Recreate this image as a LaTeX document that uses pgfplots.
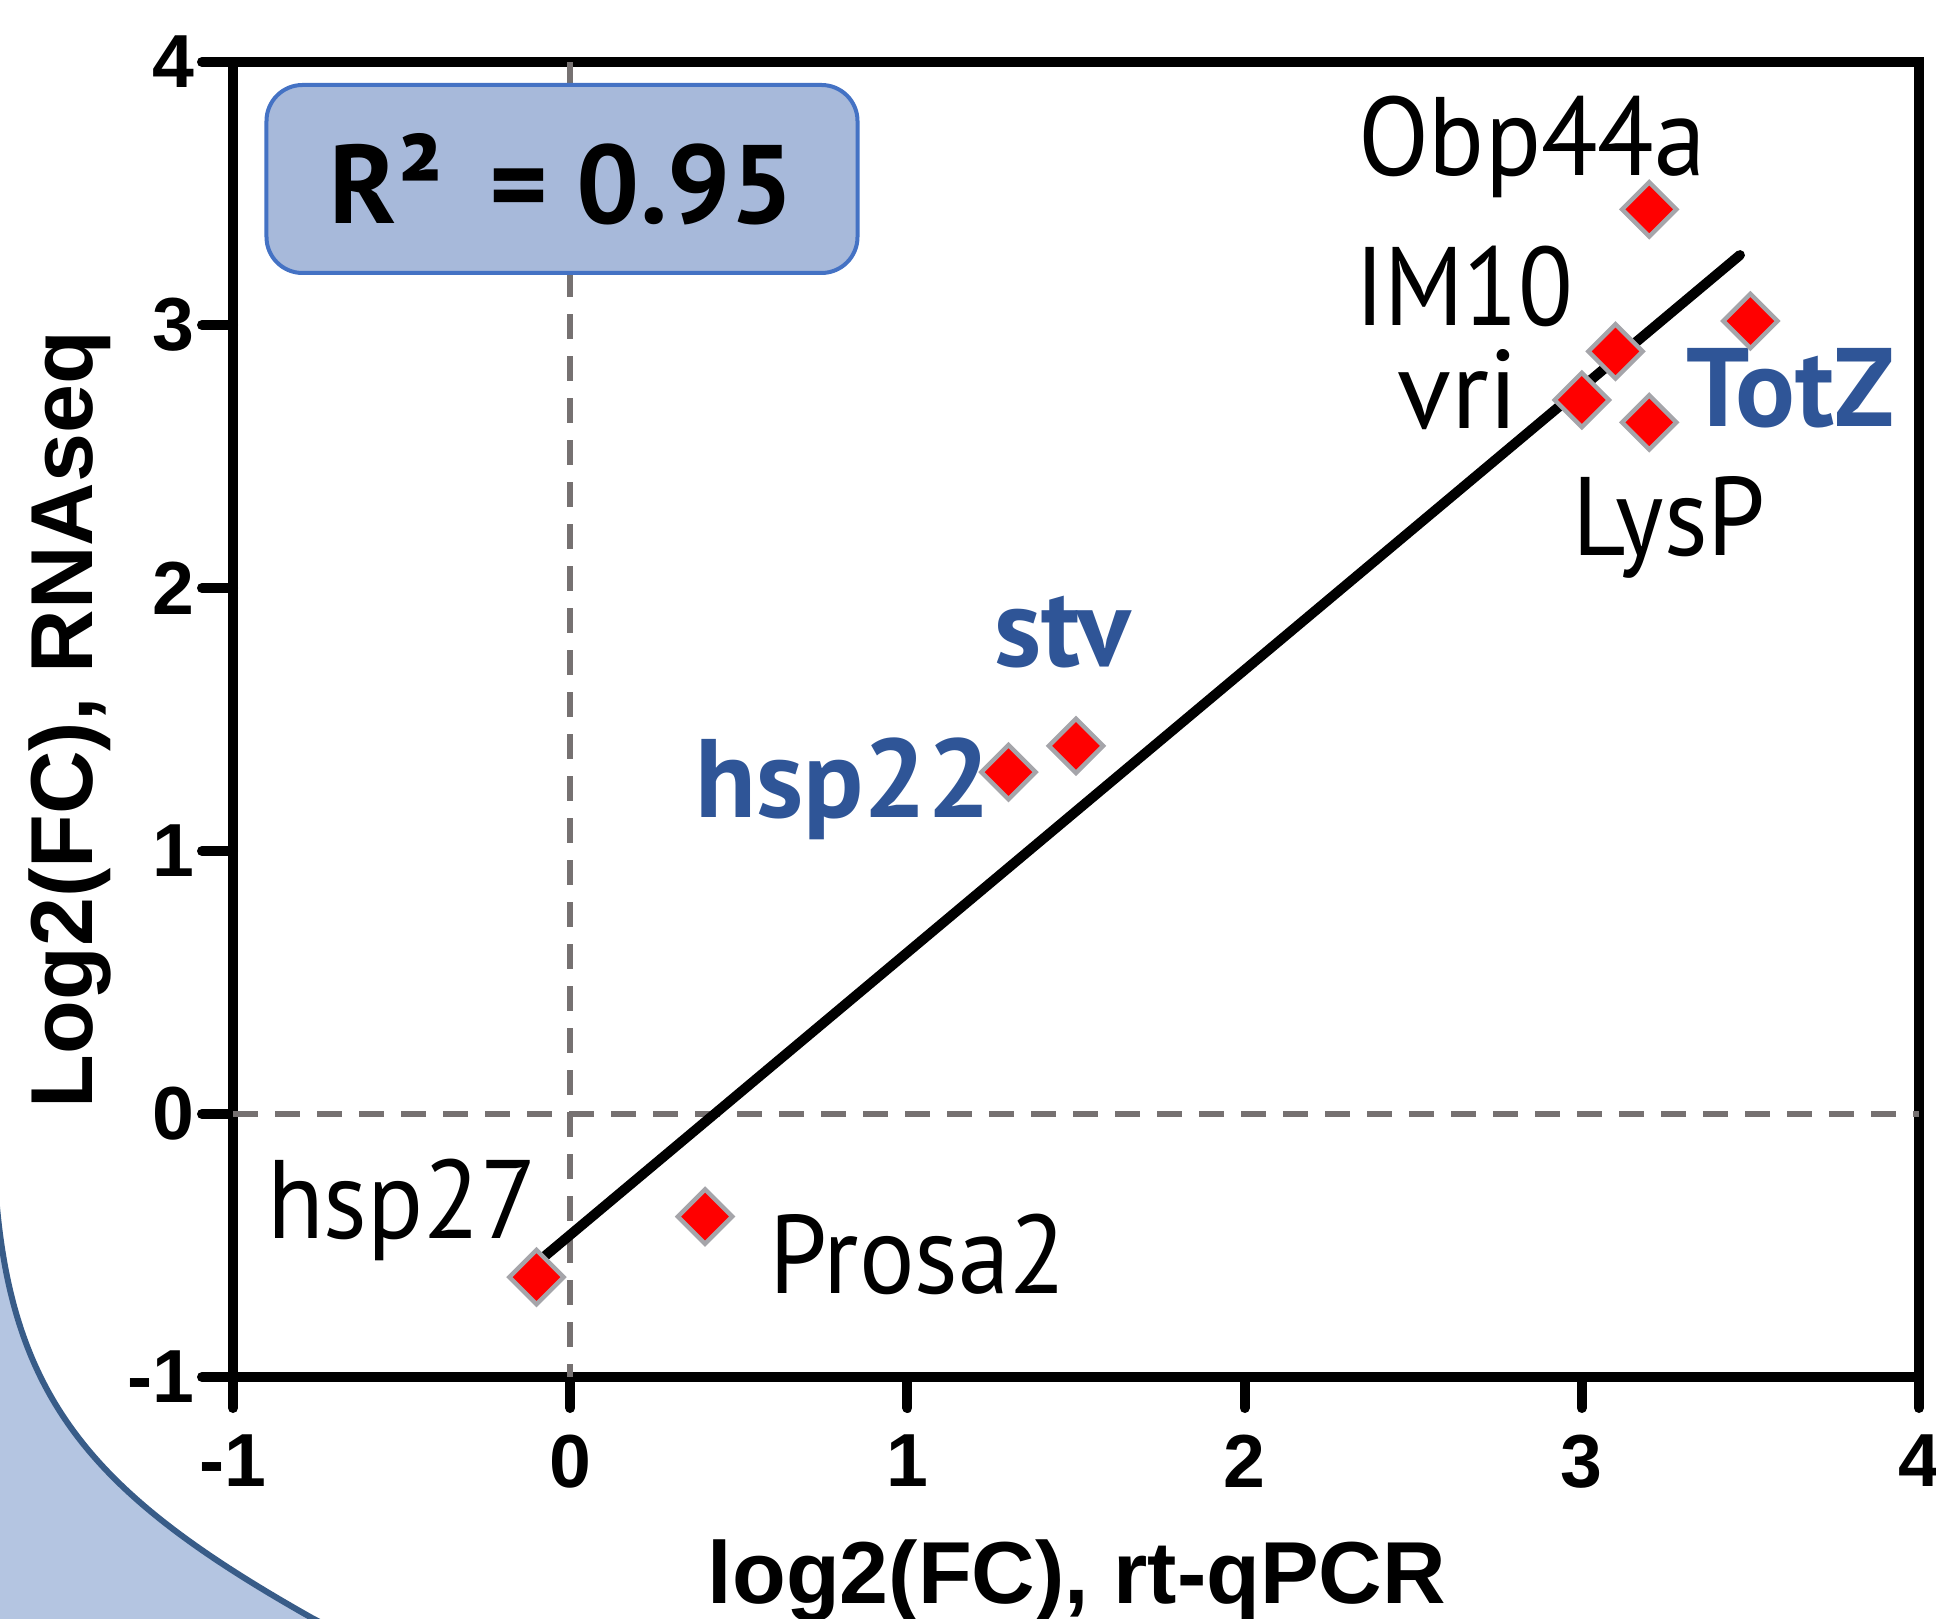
\documentclass[border=0pt]{standalone}
\usepackage{pgfplots}
\pgfplotsset{compat=1.18}
\usepackage{fontspec}
\setmainfont{Liberation Sans}
\newfontfamily\labelfont{PT Sans}
\definecolor{dblue}{RGB}{47,85,151}
\definecolor{boxfill}{RGB}{167,185,218}
\definecolor{boxline}{RGB}{68,114,196}
\definecolor{bgfill}{RGB}{180,197,225}
\definecolor{bgline}{RGB}{56,92,136}
\definecolor{dashgray}{RGB}{118,113,113}
\definecolor{mkgray}{RGB}{165,165,170}
\newcommand\lf{\labelfont\fontsize{27.9}{30}\selectfont}
\newcommand\nf[1]{\scalebox{0.93}[1]{#1}}
\begin{document}
\begin{tikzpicture}
\useasboundingbox (-58.25pt,-60.25pt) rectangle (425.75pt,344.25pt);
\fill[bgfill] (-70pt,52pt) -- (-59.5pt,49.25pt) .. controls (-56.25pt,-5.75pt) and (-34.75pt,-29.5pt) .. (19.75pt,-60.25pt) -- (25pt,-70pt) -- (-70pt,-70pt) -- cycle;
\draw[bgline, line width=1.5pt] (-59.5pt,49.25pt) .. controls (-56.25pt,-5.75pt) and (-34.75pt,-29.5pt) .. (19.75pt,-60.25pt) -- (25pt,-63pt);
\begin{axis}[
  at={(0,0)}, anchor=south west, scale only axis,
  width=421.5pt, height=328.75pt,
  xmin=-1, xmax=4, ymin=-1, ymax=4,
  xtick={-1,0,1,2,3,4}, ytick={-1,0,1,2,3,4},
  xticklabels={-1,0,1,2,3,4}, yticklabels={-1,0,1,2,3,4},
  xtick pos=bottom, ytick pos=left,
  tick align=outside,
  major tick length=7.75pt,
  axis line style={line width=2.5pt},
  every tick/.style={black, line width=2.5pt, line cap=round},
  tick label style={font=\fontsize{18.8}{20}\bfseries\selectfont, inner sep=0pt},
  xticklabel style={anchor=north, yshift=-6.6pt},
  yticklabel style={anchor=east, xshift=-1.8pt},
  clip=false,
]
\addplot[dashgray, line width=1.5pt, dash pattern=on 6.25pt off 4.25pt] coordinates {(-1,0) (4,0)};
\addplot[dashgray, line width=1.5pt, dash pattern=on 6.25pt off 4.25pt] coordinates {(0,4) (0,-1)};
\addplot[only marks, mark=square*, mark size=4.8pt, mark options={rotate=45, fill=red, draw=mkgray, line width=1.1pt}] coordinates {
(3.20,3.44) (3.50,3.015) (3.10,2.90) (3.00,2.715) (3.20,2.63)
(1.50,1.40) (1.30,1.30) (0.40,-0.39) (-0.10,-0.62)
};
\addplot[black, line width=2.5pt, line cap=round] coordinates {(-0.10,-0.567) (3.469,3.266)};
\node[anchor=base] at (axis cs:2.852,3.570) {\lf\nf{Obp44a}};
\node[anchor=base] at (axis cs:2.651,3.000) {\lf\scalebox{0.9}[1]{IM10}};
\node[anchor=base] at (axis cs:2.633,2.605) {\lf vri};
\node[anchor=base, text=dblue] at (axis cs:3.620,2.616) {\lf\bfseries TotZ};
\node[anchor=base] at (axis cs:3.259,2.125) {\lf\nf{LysP}};
\node[anchor=base, text=dblue] at (axis cs:1.461,1.700) {\lf\bfseries stv};
\node[anchor=base, text=dblue] at (axis cs:0.809,1.129) {\lf\bfseries hsp22};
\node[anchor=base] at (axis cs:-0.499,-0.475) {\lf\nf{hsp27}};
\node[anchor=base] at (axis cs:1.031,-0.681) {\lf\nf{Prosa2}};
\end{axis}
\node[draw=boxline, fill=boxfill, rounded corners=9pt, line width=1pt, minimum width=147.75pt, minimum height=47pt, inner sep=0pt] at (82.25pt,299.5pt) {\lf\bfseries R² \,= 0.95};
\node[rotate=90, anchor=base, font=\fontsize{22}{24}\bfseries\selectfont] at (-35pt,164.4pt) {Log2(FC), RNAseq};
\node[anchor=base, font=\fontsize{22}{24}\bfseries\selectfont] at (211pt,-56.5pt) {log2(FC), rt-qPCR};
\end{tikzpicture}
\end{document}
